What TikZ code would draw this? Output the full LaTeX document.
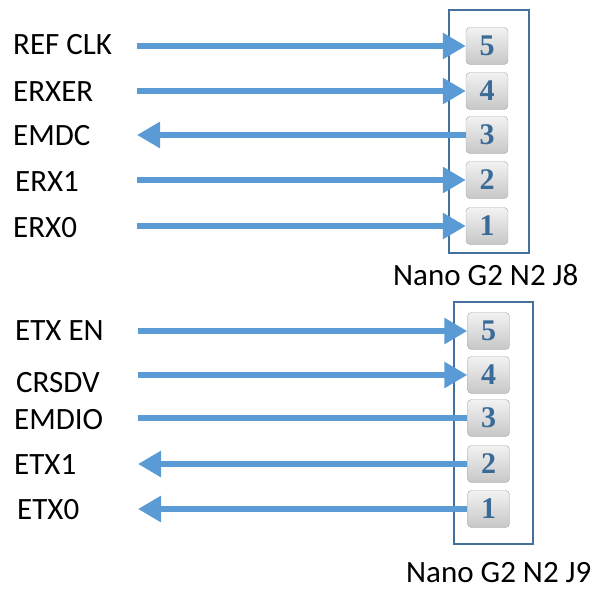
\documentclass[tikz,border=0pt]{standalone}
\usepackage{fontspec}
\setmainfont{Carlito}
\newfontfamily\pinfont{Liberation Serif}
\usetikzlibrary{arrows.meta}
\definecolor{sigblue}{HTML}{5B9BD5}
\definecolor{boxblue}{HTML}{41719C}
\definecolor{pinblue}{HTML}{3A6A98}
\definecolor{pingray}{HTML}{A6A6A6}
\begin{document}
\begin{tikzpicture}[x=1pt,y=-1pt,
		sig/.style={draw=sigblue, line width=6pt},
		tipin/.style={-{Triangle[length=23pt,width=25pt]}},
		tipout/.style={{Triangle[length=23pt,width=25pt]}-},
		pin/.style={draw=pingray, rounded corners=4pt, top color=white!95!black, bottom color=white!78!black,
			minimum width=42pt, minimum height=37pt, inner sep=0pt,
			font=\pinfont\bfseries\fontsize{30}{30}\selectfont, text=pinblue},
		lbl/.style={anchor=west, inner sep=0pt, font=\fontsize{31}{36}\selectfont},
		header/.style={draw=boxblue, line width=2.5pt}]
		\useasboundingbox (0,0) rectangle (600,590);
		% J8 connector
		\draw[header] (449,10) rectangle (529,253);
		\foreach \n/\y in {5/46,4/91,3/135,2/180,1/226}
			\node[pin] (a\n) at (487,\y) {\n};
		\node[lbl] (refclk) at (13,45) {REF CLK};
		\node[lbl] (erxer) at (13,92) {ERXER};
		\node[lbl] (emdc) at (13,136) {EMDC};
		\node[lbl] (erx1) at (15,182) {ERX1};
		\node[lbl] (erx0) at (13,228) {ERX0};
		\node[lbl] (j8) at (393,275) {Nano G2 N2 J8};
		\foreach \n in {5,4,3,2,1}
			\coordinate (sa\n) at (137,0 |- a\n);
		\draw[sig,tipin] (sa5) -- (a5.west);
		\draw[sig,tipin] (sa4) -- (a4.west);
		\draw[sig,tipout] (sa3) -- (a3.west);
		\draw[sig,tipin] (sa2) -- (a2.west);
		\draw[sig,tipin] (sa1) -- (a1.west);
		% J9 connector
		\draw[header] (454,302) rectangle (533,544);
		\foreach \n/\y in {5/331,4/375,3/418,2/464,1/509}
			\node[pin] (b\n) at (488.5,\y) {\n};
		\node[lbl] (etxen) at (15,331) {ETX EN};
		\node[lbl] (crsdv) at (16,383) {CRSDV};
		\node[lbl] (emdio) at (14,420) {EMDIO};
		\node[lbl] (etx1) at (14,465) {ETX1};
		\node[lbl] (etx0) at (17,510) {ETX0};
		\node[lbl] (j9) at (406,573) {Nano G2 N2 J9};
		\foreach \n in {5,4,3,2,1}
			\coordinate (sb\n) at (138,0 |- b\n);
		\draw[sig,tipin] (sb5) -- (b5.west);
		\draw[sig,tipin] (sb4) -- (b4.west);
		\draw[sig] (sb3) -- (b3.west);
		\draw[sig,tipout] (sb2) -- (b2.west);
		\draw[sig,tipout] (sb1) -- (b1.west);
\end{tikzpicture}
\end{document}
